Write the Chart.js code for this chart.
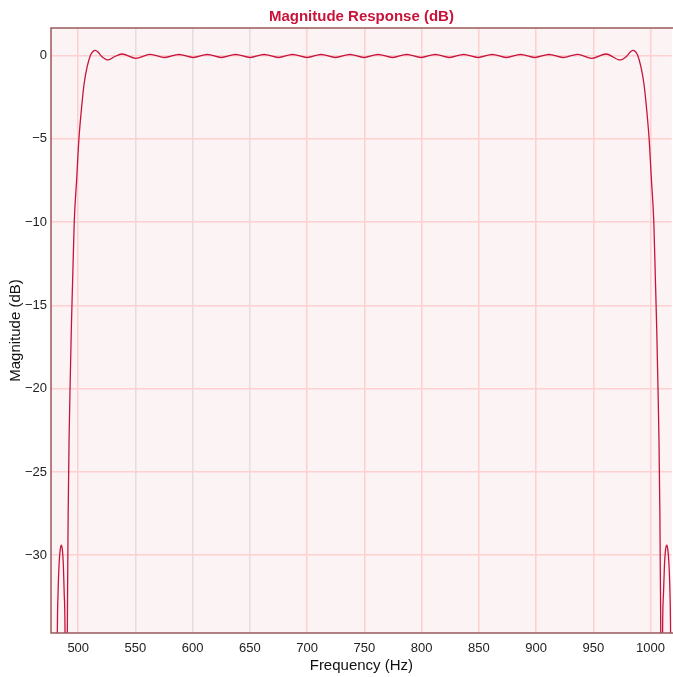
<!DOCTYPE html>
<html>
<head>
<meta charset="utf-8">
<title>Magnitude Response</title>
<script src="https://cdn.jsdelivr.net/npm/chart.js@4.4.1/dist/chart.umd.min.js"></script>
<style>
  html, body { margin: 0; padding: 0; background: #fff; overflow: hidden; }
</style>
</head>
<body>
<canvas id="magChart" width="673" height="677"></canvas>
<script>
// frequency (Hz) and magnitude (dB)
const freqs = [
  476.5, 479.0, 480.8, 481.7, 482.4, 483.3, 484.3, 485.2, 486.1, 487.0, 487.8, 488.5,
  489.3, 490.3, 490.7, 491.2, 492.0, 493.0, 494.0, 495.1, 496.5, 498.6, 500.6, 503.0,
  505.2, 507.8, 510.8, 512.9, 515.0, 517.2, 520.5, 526.2, 532.0, 538.1, 550.3, 562.8,
  575.5, 588.0, 600.5, 612.8, 625.0, 637.5, 650.2, 662.4, 675.0, 687.2, 700.0, 712.2,
  724.8, 737.3, 749.7, 762.0, 774.6, 787.0, 799.5, 811.9, 824.3, 836.7, 849.3, 861.8,
  874.0, 886.5, 898.8, 911.3, 923.6, 936.3, 948.8, 961.2, 973.4, 979.0, 982.3, 984.6,
  986.7, 988.7, 991.6, 994.2, 996.4, 998.8, 1000.8, 1002.9, 1004.3, 1005.4, 1006.4, 1007.4,
  1008.2, 1008.7, 1009.1, 1009.8, 1010.5, 1011.3, 1012.2, 1013.2, 1014.2, 1015.1, 1016.1,
  1017.0, 1017.6, 1018.6
];
const magsDb = [
  -48, -42, -50, -35.0, -32.2, -30.5, -29.65, -29.4, -29.65, -30.6, -32.4, -35.2,
  -55, -36.5, -32, -27.5, -23, -19.5, -16.3, -13.5, -10.0, -7.45, -5.0, -3.06,
  -1.66, -0.66, 0.04, 0.25, 0.32, 0.22, -0.05, -0.26, -0.05, 0.10, -0.16, 0.08,
  -0.11, 0.07, -0.11, 0.07, -0.11, 0.07, -0.11, 0.07, -0.11, 0.07, -0.11, 0.07,
  -0.11, 0.07, -0.11, 0.07, -0.11, 0.07, -0.11, 0.07, -0.11, 0.07, -0.11, 0.07,
  -0.11, 0.07, -0.11, 0.07, -0.11, 0.08, -0.16, 0.10, -0.26, -0.05, 0.22, 0.32,
  0.25, 0.04, -0.66, -1.66, -3.06, -5.0, -7.45, -10.0, -13.5, -16.3, -19.5, -23,
  -27.5, -32, -36.5, -55, -35.2, -32.4, -30.6, -29.65, -29.4, -29.65, -30.5,
  -32.2, -35.0, -50
];
const xTicks = [500, 550, 600, 650, 700, 750, 800, 850, 900, 950, 1000];
const yTicks = [0, -5, -10, -15, -20, -25, -30];

const points = freqs.map((f, i) => ({ x: f, y: magsDb[i] }));

const FONT = 'Liberation Sans, Arial, sans-serif';

// pink plot background plus the frame on left, top and bottom
const plotFrame = {
  id: 'plotFrame',
  beforeDraw(chart) {
    const { ctx, chartArea: a } = chart;
    ctx.save();
    ctx.fillStyle = '#fbf3f4';
    ctx.fillRect(a.left, a.top, a.right - a.left, a.bottom - a.top);
    ctx.restore();
  },
  afterDraw(chart) {
    const { ctx, chartArea: a } = chart;
    ctx.save();
    ctx.strokeStyle = '#9b5a5a';
    ctx.lineWidth = 1.5;
    ctx.beginPath();
    ctx.moveTo(a.right + 2, a.top);
    ctx.lineTo(a.left, a.top);
    ctx.lineTo(a.left, a.bottom);
    ctx.lineTo(a.right + 2, a.bottom);
    ctx.stroke();
    ctx.restore();
  }
};

new Chart(document.getElementById('magChart'), {
  type: 'line',
  data: {
    datasets: [{
      label: 'Magnitude',
      data: points,
      borderColor: '#c8143c',
      borderWidth: 1.3,
      pointRadius: 0,
      fill: false,
      cubicInterpolationMode: 'monotone'
    }]
  },
  options: {
    responsive: false,
    devicePixelRatio: 1,
    animation: false,
    layout: { padding: 0 },
    plugins: {
      legend: { display: false },
      tooltip: { enabled: false },
      title: {
        display: true,
        text: 'Magnitude Response (dB)',
        color: '#c8143c',
        fullSize: false,
        font: { family: FONT, size: 15, weight: 'bold' },
        padding: { top: 8, bottom: 2 }
      }
    },
    scales: {
      x: {
        type: 'linear',
        min: 476.2,
        max: 1018.6,
        afterBuildTicks: (scale) => { scale.ticks = xTicks.map(v => ({ value: v })); },
        afterFit: (scale) => { scale.height = 44; },
        border: { display: false },
        grid: {
          drawTicks: false,
          lineWidth: 1.5,
          color: (c) => (c.tick && c.tick.value >= 550 && c.tick.value <= 650) ? '#e4dede' : '#ffd0d0'
        },
        ticks: {
          padding: 8,
          color: '#222',
          font: { family: FONT, size: 13 },
          callback: (v) => String(v)
        },
        title: {
          display: true,
          text: 'Frequency (Hz)',
          color: '#111',
          font: { family: FONT, size: 15 },
          padding: { top: 0, bottom: 2 }
        }
      },
      y: {
        type: 'linear',
        min: -34.67,
        max: 1.66,
        afterBuildTicks: (scale) => { scale.ticks = yTicks.map(v => ({ value: v })); },
        afterFit: (scale) => { scale.width = 51; },
        border: { display: false },
        grid: {
          drawTicks: false,
          lineWidth: 1.5,
          color: '#ffd0d0'
        },
        ticks: {
          padding: 4,
          color: '#222',
          font: { family: FONT, size: 13 },
          callback: (v) => (v < 0 ? '\u2212' + Math.abs(v) : String(v))
        },
        title: {
          display: true,
          text: 'Magnitude (dB)',
          color: '#111',
          font: { family: FONT, size: 15 },
          padding: { top: 7, bottom: 0 }
        }
      }
    }
  },
  plugins: [plotFrame]
});
</script>
</body>
</html>
